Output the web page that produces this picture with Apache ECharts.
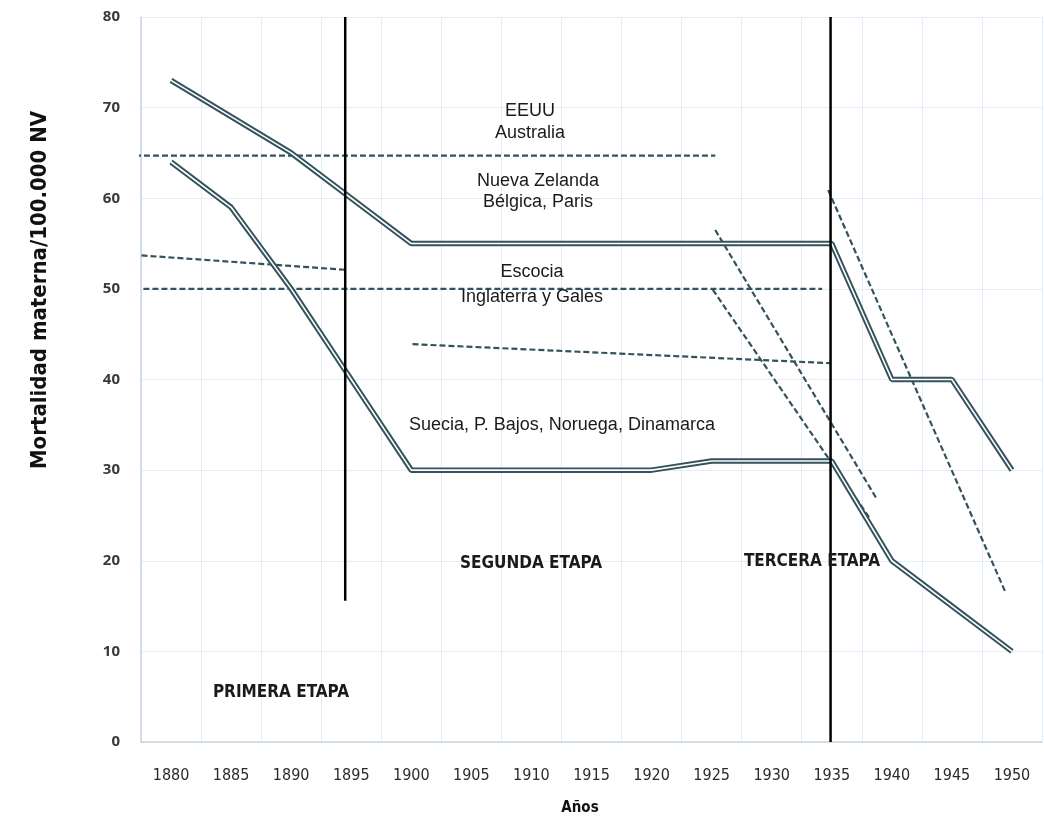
<!DOCTYPE html>
<html>
<head>
<meta charset="utf-8">
<script src="https://cdn.jsdelivr.net/npm/echarts@6/dist/echarts.min.js"></script>
<style>
html,body{margin:0;padding:0;background:#fff;}
#chart{width:1044px;height:819px;}
</style>
</head>
<body>
<div id="chart"></div>
<script>
// ---- data ----
const years = [1880,1885,1890,1895,1900,1905,1910,1915,1920,1925,1930,1935,1940,1945,1950];
const yTicks = [0,10,20,30,40,50,60,70,80];
// Nueva Zelanda, Bélgica, Paris (upper double line)
const upperLine = [73,69,65,60,55,55,55,55,55,55,55,55,40,40,30];
// Suecia, P. Bajos, Noruega, Dinamarca (lower double line)
const lowerLine = [64,59,50,40,30,30,30,30,30,31,31,31,20,15,10];
// dashed trend segments [year, value]
const eeuuTrend = [[1874.75,64.7],[1925.3,64.7]];
const escociaTrend = [[1875.3,53.9],[1894.6,52.1]];
const inglaterraTrend = [[1877.7,50],[1934.2,50]];
const nordicTrend = [[1900.1,43.9],[1934.9,41.8]];
const dropA = [[1925.3,56.5],[1938.8,26.7]];
const dropB = [[1925.1,49.9],[1938.1,24.8]];
const dropC = [[1934.7,60.9],[1949.5,16.4]];
// stage dividers
const divider1 = [[1894.5,80],[1894.5,15.6]];
const divider2 = [[1934.9,80],[1934.9,0]];

const labels = [
  {t:'EEUU', x:530, y:111},
  {t:'Australia', x:530, y:133},
  {t:'Nueva Zelanda', x:538, y:181},
  {t:'Bélgica, Paris', x:538, y:202},
  {t:'Escocia', x:532, y:272},
  {t:'Inglaterra y Gales', x:532, y:297},
  {t:'Suecia, P. Bajos, Noruega, Dinamarca', x:562, y:425}
];
const stages = [
  {t:'PRIMERA ETAPA', x:281, y:693},
  {t:'SEGUNDA ETAPA', x:531, y:564},
  {t:'TERCERA ETAPA', x:812, y:562}
];

const pair = (xs, ys) => xs.map((x,i)=>[x, ys[i]]);
const DARK = '#34525c';
const NARROW = '"Liberation Sans Narrow", "DejaVu Sans Condensed", "Liberation Sans", sans-serif';

function doubleLine(data){
  return [
    {type:'line', xAxisIndex:1, data:data, symbol:'none', clip:false, z:3,
     lineStyle:{color:DARK, width:5.5}, silent:true},
    {type:'line', xAxisIndex:1, data:data, symbol:'none', clip:false, z:4,
     lineStyle:{color:'#ffffff', width:1.6}, silent:true}
  ];
}
function dashed(data){
  return {type:'line', xAxisIndex:1, data:data, symbol:'none', clip:false, z:2,
    lineStyle:{color:DARK, width:2.2, type:[6,3]}, silent:true};
}
function solid(data){
  return {type:'line', xAxisIndex:1, data:data, symbol:'none', clip:false, z:5,
    lineStyle:{color:'#000', width:2.5}, silent:true};
}

const chart = echarts.init(document.getElementById('chart'), null, {renderer:'canvas'});
const graphics = [];
labels.forEach(l=>graphics.push({type:'text', x:l.x, y:l.y, z:10,
  style:{text:l.t, align:'center', verticalAlign:'middle',
    font:'18px "Liberation Sans", Arial, sans-serif', fill:'#1a1a1a'}}));
stages.forEach(l=>graphics.push({type:'text', x:l.x, y:l.y, z:10,
  style:{text:l.t, align:'center', verticalAlign:'middle',
    font:'bold 17px ' + NARROW, fill:'#1a1a1a'}}));
graphics.push({type:'text', x:40, y:290, rotation:Math.PI/2, z:10,
  style:{text:'Mortalidad materna/100.000 NV', align:'center', verticalAlign:'middle',
    font:'bold 22px ' + NARROW, fill:'#111'}});
graphics.push({type:'text', x:580, y:808, z:10,
  style:{text:'Años', align:'center', verticalAlign:'middle',
    font:'bold 15px ' + NARROW, fill:'#111'}});

chart.setOption({
  animation:false,
  grid:{left:141, right:2, top:17, bottom:77, containLabel:false},
  xAxis:[
    {type:'category', data:years.map(String), boundaryGap:true,
     axisLine:{show:true, lineStyle:{color:'#c8d5e0', width:1.5}},
     axisTick:{show:false},
     axisLabel:{color:'#2a2a2a', fontSize:16, fontFamily:NARROW, margin:26},
     splitLine:{show:true, lineStyle:{color:'#e2edf7', width:1}}},
    {type:'value', min:1877.5, max:1952.5, show:false}
  ],
  yAxis:{type:'value', min:yTicks[0], max:yTicks[yTicks.length-1], interval:10,
    axisLine:{show:true, lineStyle:{color:'#c8d5e0', width:1.5}},
    axisTick:{show:false},
    axisLabel:{color:'#3a3a3a', fontSize:15, fontWeight:'bold', fontFamily:'"Open Sans", sans-serif', margin:21},
    splitLine:{show:true, lineStyle:{color:'#e2edf7', width:1}}},
  series:[
    dashed(eeuuTrend), dashed(escociaTrend), dashed(inglaterraTrend), dashed(nordicTrend),
    dashed(dropA), dashed(dropB), dashed(dropC),
    ...doubleLine(pair(years, upperLine)),
    ...doubleLine(pair(years, lowerLine)),
    solid(divider1), solid(divider2)
  ],
  graphic:graphics
});
</script>
</body>
</html>
